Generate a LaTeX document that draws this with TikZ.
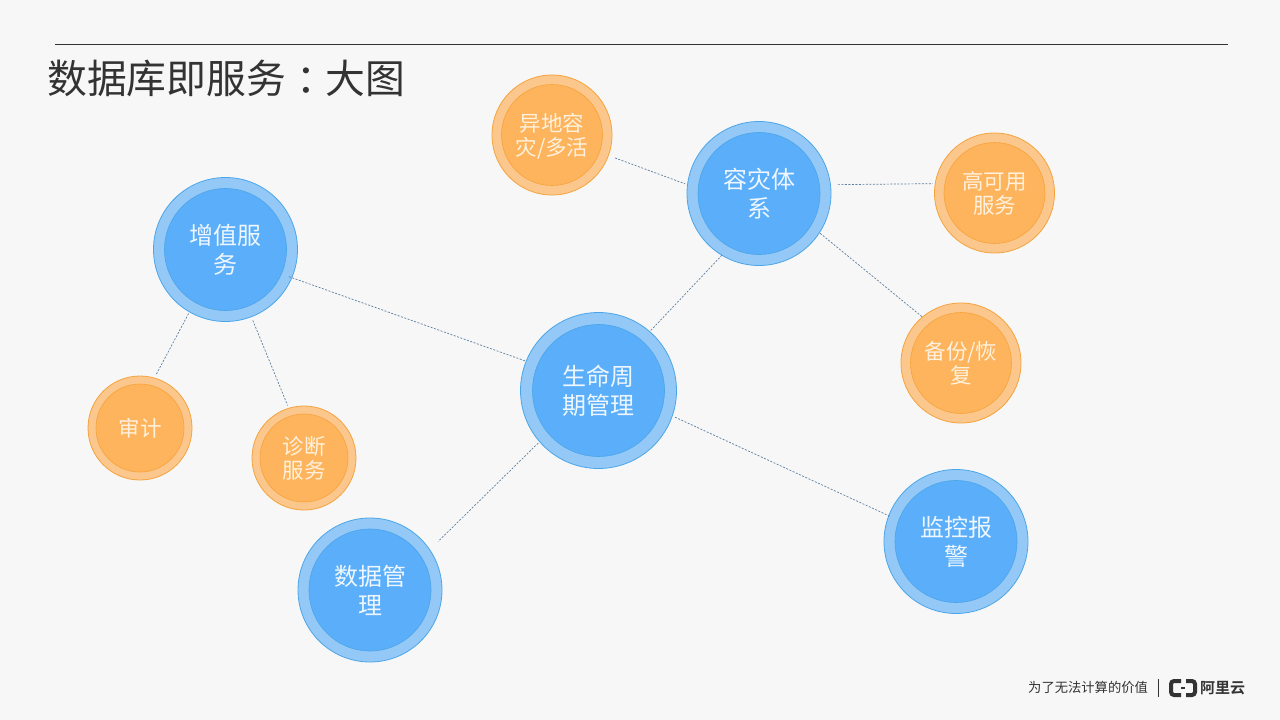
\documentclass[tikz,border=0pt]{standalone}
\usepackage{fontspec}
\setmainfont{Noto Sans CJK SC}
\newfontfamily\tcfont{Noto Sans CJK TC}
\newfontfamily\cjkbold[BoldFont={Noto Sans CJK SC Bold}]{Noto Sans CJK SC}
\definecolor{bgc}{HTML}{F7F7F7}
\definecolor{bluering}{HTML}{94C8F7}
\definecolor{bluecore}{HTML}{5BAEF9}
\definecolor{blueedge}{HTML}{4BA6E8}
\definecolor{bluetext}{HTML}{EEF7FF}
\definecolor{orangering}{HTML}{FBC78C}
\definecolor{orangecore}{HTML}{FDB45C}
\definecolor{orangeedge}{HTML}{F6A33C}
\definecolor{orangetext}{HTML}{FFF1DD}
\definecolor{linkc}{HTML}{5F7F9F}
\definecolor{inkc}{HTML}{333333}
\tikzset{
  x=1pt,y=-1pt,
  bubble/.style n args={5}{circle,draw=#5,fill=#3,line width=.8pt,minimum size=#1*2pt,inner sep=0pt,outer sep=0pt,
    align=center,
    path picture={\draw[draw=#5,fill=#4,line width=.6pt] (path picture bounding box.center) circle (#2pt);}},
  hub/.style={bubble={78}{66}{bluering}{bluecore}{blueedge},text=bluetext,font=\fontsize{24}{29}\selectfont},
  bluenode/.style={bubble={72}{61}{bluering}{bluecore}{blueedge},text=bluetext,font=\fontsize{24}{29}\selectfont},
  orangenode/.style={bubble={60}{50.5}{orangering}{orangecore}{orangeedge},text=orangetext,font=\fontsize{21.5}{24}\selectfont},
  smallnode/.style={bubble={52}{44}{orangering}{orangecore}{orangeedge},text=orangetext,font=\fontsize{21.5}{24}\selectfont},
  link/.style={draw=linkc,line width=.7pt,dash pattern=on 2pt off 1.5pt},
}
\begin{document}
\begin{tikzpicture}
\useasboundingbox (0,0) rectangle (1280,720);
\fill[bgc] (0,0) rectangle (1280,720);
\draw[inkc,line width=.8pt] (55,44) -- (1228,44);
\node[anchor=west,inner sep=0pt,text=inkc,font=\fontsize{39.8}{48}\selectfont] (title) at (47,78) {数据库即服务\raisebox{-2.5pt}{\tcfont ：}大图};

\node[hub] (life) at (598.5,390.5) {生命周\\期管理};
\node[bluenode] (dr) at (759,193.5) {容灾体\\系};
\node[bluenode] (vas) at (225.5,249.5) {增值服\\务};
\node[bluenode] (data) at (370,590) {数据管\\理};
\node[bluenode] (mon) at (956,541.5) {监控报\\警};
\node[orangenode] (geo) at (552,135) {异地容\\灾\smash{/}多活};
\node[orangenode] (ha) at (994.5,193) {高可用\\服务};
\node[orangenode] (bak) at (961,363) {备份\smash{/}恢\\复};
\node[smallnode] (audit) at (140,428) {审计};
\node[smallnode] (diag) at (304,458) {诊断\\服务};

\draw[link,shorten <=7pt,shorten >=2.5pt] (geo.-20) -- (dr.173);
\draw[link,shorten <=7.5pt,shorten >=2.5pt] (dr.7.5) -- (ha.171.5);
\draw[link,shorten <=1pt,shorten >=0pt] (dr.-33) -- (bak.130);
\draw[link] (dr.-121) -- (life.49);
\draw[link,shorten <=-3pt,shorten >=1pt] (vas.-23) -- (life.158);
\draw[link,shorten <=2pt,shorten >=3pt] (vas.-120) -- (audit.74);
\draw[link,shorten <=4pt,shorten >=3pt] (vas.-69) -- (diag.107);
\draw[link,shorten <=2pt,shorten >=12pt] (life.-139) -- (data.34);
\draw[link,shorten <=3pt,shorten >=-1pt] (life.-19) -- (mon.159);

\node[anchor=west,inner sep=0pt,text=inkc,font=\fontsize{13.3}{16}\selectfont] (slogan) at (1028,687) {为了无法计算的价值};
\draw[inkc,line width=.7pt] (1158.5,679) -- (1158.5,697);
\draw[inkc,line width=4pt,line cap=butt,rounded corners=3pt] (1181,681) -- (1171,681) -- (1171,695) -- (1181,695);
\draw[inkc,line width=4pt,line cap=butt,rounded corners=3pt] (1186,681) -- (1195,681) -- (1195,695) -- (1186,695);
\draw[inkc,line width=1.2pt] (1181,688) -- (1185,688);
\node[anchor=west,inner sep=0pt,text=inkc,font=\cjkbold\bfseries\fontsize{15}{18}\selectfont] (brand) at (1200,688) {阿里云};
\end{tikzpicture}
\end{document}
